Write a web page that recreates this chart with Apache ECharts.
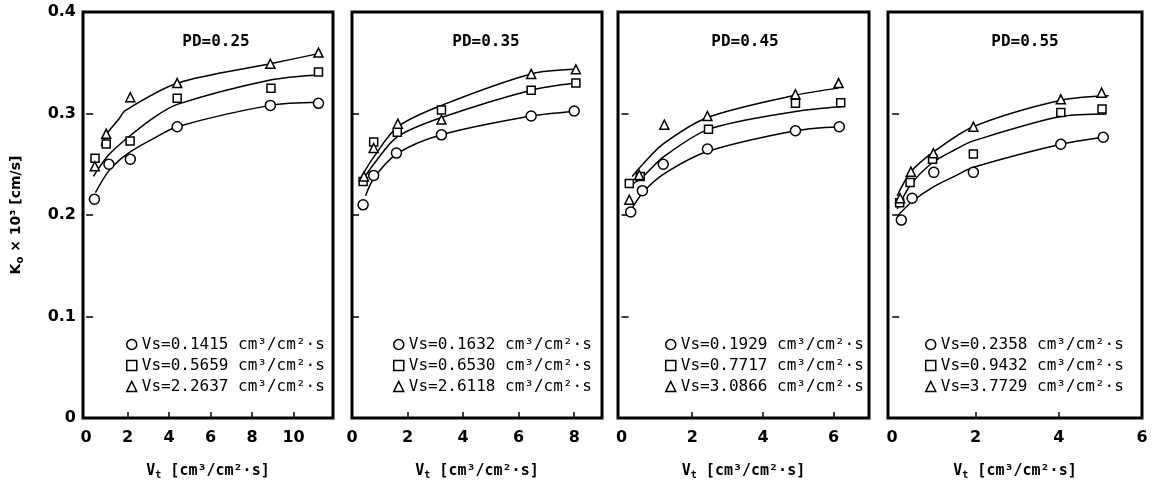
<!DOCTYPE html>
<html>
<head>
<meta charset="utf-8">
<script src="https://cdn.jsdelivr.net/npm/echarts@6/dist/echarts.min.js"></script>
<style>
  html, body { margin: 0; padding: 0; background: #fff; }
  #chart { width: 1153px; height: 489px; }
</style>
</head>
<body>
<div id="chart"></div>
<script>
// ---------- data ----------
const panelTitles = ['PD=0.25', 'PD=0.35', 'PD=0.45', 'PD=0.55'];

const vs25 = ['Vs=0.1415 cm³/cm²·s', 'Vs=0.5659 cm³/cm²·s', 'Vs=2.2637 cm³/cm²·s'];
const vs35 = ['Vs=0.1632 cm³/cm²·s', 'Vs=0.6530 cm³/cm²·s', 'Vs=2.6118 cm³/cm²·s'];
const vs45 = ['Vs=0.1929 cm³/cm²·s', 'Vs=0.7717 cm³/cm²·s', 'Vs=3.0866 cm³/cm²·s'];
const vs55 = ['Vs=0.2358 cm³/cm²·s', 'Vs=0.9432 cm³/cm²·s', 'Vs=3.7729 cm³/cm²·s'];

const xTicks25 = [0, 2, 4, 6, 8, 10];
const xTicks35 = [0, 2, 4, 6, 8];
const xTicks45 = [0, 2, 4, 6];
const xTicks55 = [0, 2, 4, 6];
const yTicks = [0, 0.1, 0.2, 0.3, 0.4];

// PD = 0.25
const circ25 = [[0.40,0.2155],[1.10,0.250],[2.13,0.255],[4.39,0.287],[8.88,0.308],[11.2,0.310]];
const sq25   = [[0.43,0.256],[0.97,0.270],[2.12,0.273],[4.39,0.315],[8.91,0.325],[11.2,0.341]];
const tri25  = [[0.42,0.248],[0.97,0.280],[2.13,0.316],[4.39,0.330],[8.88,0.349],[11.2,0.360]];
const fitC25 = [[0.45,0.222],[1.08,0.243],[1.97,0.260],[3.26,0.2755],[4.39,0.287],[8.88,0.308],[11.2,0.311]];
const fitS25 = [[0.35,0.238],[1.08,0.259],[1.97,0.2756],[3.26,0.296],[4.39,0.309],[8.88,0.333],[11.2,0.338]];
const fitT25 = [[0.72,0.268],[1.00,0.280],[1.56,0.294],[1.90,0.303],[4.42,0.330],[8.88,0.349],[11.2,0.359]];

// PD = 0.35
const circ35 = [[0.40,0.210],[0.78,0.239],[1.60,0.261],[3.22,0.279],[6.45,0.2975],[8.0,0.3025]];
const sq35   = [[0.40,0.233],[0.78,0.272],[1.63,0.2815],[3.22,0.3035],[6.45,0.323],[8.06,0.330]];
const tri35  = [[0.43,0.238],[0.78,0.266],[1.65,0.290],[3.22,0.294],[6.45,0.339],[8.06,0.3435]];
const fitC35 = [[0.49,0.219],[0.78,0.236],[1.60,0.260],[3.22,0.279],[6.45,0.2975],[8.0,0.302]];
const fitS35 = [[0.40,0.235],[0.78,0.250],[1.63,0.277],[3.22,0.296],[6.45,0.323],[8.06,0.330]];
const fitT35 = [[0.35,0.238],[0.78,0.257],[1.65,0.287],[3.22,0.308],[6.45,0.339],[8.06,0.3435]];

// PD = 0.45
const circ45 = [[0.26,0.203],[0.59,0.224],[1.18,0.250],[2.43,0.265],[4.92,0.283],[6.16,0.287]];
const sq45   = [[0.22,0.231],[0.53,0.238],[2.46,0.2844],[4.92,0.310],[6.2,0.3107]];
const tri45  = [[0.22,0.215],[0.50,0.2395],[1.21,0.289],[2.43,0.2975],[4.92,0.319],[6.14,0.330]];
const fitC45 = [[0.27,0.205],[0.60,0.222],[1.18,0.240],[2.43,0.2625],[4.92,0.283],[6.16,0.287]];
const fitS45 = [[0.24,0.229],[0.58,0.237],[1.18,0.257],[2.46,0.2844],[4.92,0.302],[6.2,0.3067]];
const fitT45 = [[0.30,0.238],[0.60,0.250],[1.18,0.270],[2.43,0.296],[4.92,0.318],[6.14,0.325]];

// PD = 0.55
const circ55 = [[0.22,0.195],[0.48,0.2165],[1.00,0.242],[1.95,0.242],[4.05,0.2697],[5.07,0.2766]];
const sq55   = [[0.18,0.212],[0.43,0.232],[0.97,0.255],[1.95,0.260],[4.05,0.301],[5.04,0.3044]];
const tri55  = [[0.19,0.2165],[0.45,0.2427],[0.99,0.2608],[1.95,0.287],[4.05,0.314],[5.03,0.3205]];
const fitC55 = [[0.15,0.200],[0.50,0.214],[1.00,0.228],[1.54,0.239],[1.95,0.247],[4.05,0.2697],[5.07,0.2766]];
const fitS55 = [[0.12,0.206],[0.45,0.230],[0.95,0.251],[1.54,0.265],[1.95,0.273],[4.05,0.297],[5.15,0.2995]];
const fitT55 = [[0.12,0.219],[0.45,0.2427],[0.99,0.262],[1.95,0.287],[4.05,0.313],[5.2,0.3175]];

// ---------- layout (not data) ----------
const gridLeft  = [83, 352, 618, 888];
const gridWidth = [250, 250, 251, 254];
const gridTop = 12, gridHeight = 406;
const xMin = [-0.15, 0, -0.1, -0.1];
const xMax = [11.9, 9, 7, 6];
const titleCenter = [211, 481, 740, 1020];
const legendLeft = [121, 388, 660, 920];

const panels = [
  { title: panelTitles[0], names: vs25, pts: [circ25, sq25, tri25], fits: [fitC25, fitS25, fitT25], xTicks: xTicks25 },
  { title: panelTitles[1], names: vs35, pts: [circ35, sq35, tri35], fits: [fitC35, fitS35, fitT35], xTicks: xTicks35 },
  { title: panelTitles[2], names: vs45, pts: [circ45, sq45, tri45], fits: [fitC45, fitS45, fitT45], xTicks: xTicks45 },
  { title: panelTitles[3], names: vs55, pts: [circ55, sq55, tri55], fits: [fitC55, fitS55, fitT55], xTicks: xTicks55 }
];

const symbols = ['circle', 'rect', 'triangle'];
const symSizes = [10, 8, 9];
const mono = "'DejaVu Sans Mono', 'Liberation Mono', monospace";
const sans = "'DejaVu Sans', sans-serif";

const grid = [], xAxis = [], yAxis = [], series = [], legend = [], title = [];

panels.forEach((p, i) => {
  grid.push({
    left: gridLeft[i], top: gridTop, width: gridWidth[i], height: gridHeight,
    show: true, borderColor: '#000', borderWidth: 3, backgroundColor: 'transparent'
  });
  xAxis.push({
    type: 'value', gridIndex: i, min: xMin[i], max: xMax[i],
    axisLine: { show: false },
    splitLine: { show: false },
    axisTick: {
      show: true, inside: true, length: 6,
      lineStyle: { color: '#000', width: 1.5 },
      customValues: p.xTicks.filter(v => v > 0 && v < xMax[i])
    },
    axisLabel: {
      show: true, margin: 12, color: '#000',
      fontFamily: sans, fontWeight: 'bold', fontSize: 16,
      customValues: p.xTicks,
      showMinLabel: true, showMaxLabel: true
    },
    name: '{a|V}{b|t}{a| [cm³/cm²·s]}',
    nameLocation: 'middle', nameGap: 44,
    nameTextStyle: {
      rich: {
        a: { fontFamily: mono, fontSize: 15, color: '#000', fontWeight: 'bold', lineHeight: 18 },
        b: { fontFamily: mono, fontSize: 10, color: '#000', fontWeight: 'bold', verticalAlign: 'bottom', lineHeight: 14 }
      }
    }
  });
  yAxis.push({
    type: 'value', gridIndex: i, min: 0, max: 0.4, interval: 0.1,
    axisLine: { show: false },
    splitLine: { show: false },
    axisTick: {
      show: true, inside: true, length: 7,
      lineStyle: { color: '#000', width: 1.5 },
      customValues: [0.1, 0.2, 0.3]
    },
    axisLabel: {
      show: i === 0, margin: 7, color: '#000',
      fontFamily: sans, fontWeight: 'bold', fontSize: 16,
      customValues: yTicks
    },
    name: i === 0 ? '{a|K}{b|o}{a| × 10³ [cm/s]}' : '',
    nameLocation: 'middle', nameGap: 58, nameRotate: 90,
    nameTextStyle: {
      rich: {
        a: { fontFamily: sans, fontSize: 14, color: '#000', fontWeight: 'bold', lineHeight: 18 },
        b: { fontFamily: sans, fontSize: 10, color: '#000', fontWeight: 'bold', verticalAlign: 'bottom', lineHeight: 14 }
      }
    }
  });
  title.push({
    text: p.title, left: titleCenter[i], top: 29, textAlign: 'center',
    textStyle: { fontFamily: mono, fontSize: 16, fontWeight: 'bold', color: '#000' }
  });
  legend.push({
    orient: 'vertical', left: legendLeft[i], top: 331,
    itemWidth: 10, itemHeight: 10, itemGap: 4,
    selectedMode: false,
    textStyle: { fontFamily: mono, fontSize: 16, color: '#000', lineHeight: 17, padding: [0, 0, 0, 0] },
    data: p.names.map((n, k) => ({
      name: n, icon: symbols[k],
      itemStyle: { color: '#fff', borderColor: '#000', borderWidth: 1.5 }
    }))
  });
  p.fits.forEach((f, k) => {
    series.push({
      type: 'line', name: 'fit' + i + '_' + k, xAxisIndex: i, yAxisIndex: i,
      data: f, smooth: 0.3, symbol: 'none', silent: true, z: 2,
      lineStyle: { color: '#000', width: 1.5 }
    });
  });
  p.pts.forEach((d, k) => {
    series.push({
      type: 'scatter', name: p.names[k], xAxisIndex: i, yAxisIndex: i,
      data: d, symbol: symbols[k], symbolSize: symSizes[k], z: 5,
      itemStyle: { color: '#fff', borderColor: '#000', borderWidth: 1.5, opacity: 1 }
    });
  });
});

const chart = echarts.init(document.getElementById('chart'), null, { renderer: 'canvas' });
chart.setOption({
  animation: false,
  backgroundColor: '#fff',
  title, grid, xAxis, yAxis, legend, series
});
</script>
</body>
</html>
